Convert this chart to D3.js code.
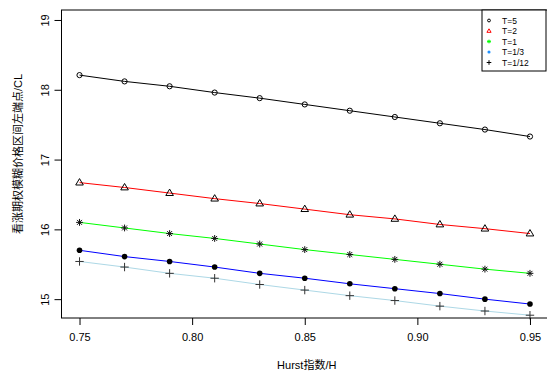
<!DOCTYPE html>
<html>
<head>
<meta charset="utf-8">
<script src="https://cdn.jsdelivr.net/npm/d3@7"></script>
<style>
  body { margin: 0; background: #fff; }
  svg { display: block; font-family: "Liberation Sans", Arial, "Noto Sans CJK SC", sans-serif; }
</style>
</head>
<body>
<svg width="547" height="374"></svg>
<script>
const hurst = [0.75, 0.77, 0.79, 0.81, 0.83, 0.85, 0.87, 0.89, 0.91, 0.93, 0.95];
const xTicks = [0.75, 0.80, 0.85, 0.90, 0.95];
const yTicks = [15, 16, 17, 18, 19];

const seriesNames = ['T=5', 'T=2', 'T=1', 'T=1/3', 'T=1/12'];
const clT5 = [18.21, 18.12, 18.05, 17.96, 17.88, 17.79, 17.70, 17.61, 17.52, 17.43, 17.33];
const clT2 = [16.67, 16.60, 16.52, 16.44, 16.37, 16.29, 16.21, 16.15, 16.07, 16.01, 15.94];
const clT1 = [16.10, 16.02, 15.94, 15.87, 15.79, 15.71, 15.64, 15.57, 15.50, 15.43, 15.37];
const clT1_3 = [15.70, 15.61, 15.54, 15.46, 15.37, 15.30, 15.22, 15.15, 15.08, 15.00, 14.93];
const clT1_12 = [15.54, 15.46, 15.37, 15.30, 15.21, 15.13, 15.05, 14.98, 14.90, 14.83, 14.77];

const lineColors = ['#000000', '#FF0000', '#00FF00', '#0000FF', '#ADD8E6'];
const legendColors = ['#000000', '#FF0000', '#00FF00', '#1E90FF', '#000000'];
const shapes = ['circle', 'triangle', 'star', 'dot', 'plus'];

const allSeries = [clT5, clT2, clT1, clT1_3, clT1_12];

const svg = d3.select('svg');
const box = {left: 61.5, right: 548, top: 10, bottom: 318};

const x = d3.scaleLinear().domain([0.742, 0.958]).range([box.left, box.right]);
const y = d3.scaleLinear().domain([14.73, 19.143]).range([box.bottom, box.top]);

// R-like point shapes
function marker(g, shape, s, color) {
  if (shape === 'circle') {
    g.append('circle').attr('r', 2.6 * s).attr('fill', 'none')
        .attr('stroke', color).attr('stroke-width', 1);
  } else if (shape === 'triangle') {
    const r = 4 * s;
    g.append('path')
        .attr('d', `M0,${-r}L${r * 0.95},${r * 0.6}L${-r * 0.95},${r * 0.6}Z`)
        .attr('fill', 'none').attr('stroke', color).attr('stroke-width', 1);
  } else if (shape === 'star') {
    const r = 3.4 * s, d = r * 0.72;
    g.append('path')
        .attr('d', `M${-r},0H${r}M0,${-r}V${r}M${-d},${-d}L${d},${d}M${-d},${d}L${d},${-d}`)
        .attr('stroke', color).attr('stroke-width', 1);
  } else if (shape === 'dot') {
    g.append('circle').attr('r', 2.8 * s).attr('fill', color);
  } else if (shape === 'plus') {
    const r = 4.2 * s;
    g.append('path').attr('d', `M${-r},0H${r}M0,${-r}V${r}`)
        .attr('stroke', color).attr('stroke-width', 1);
  }
}

const line = d3.line().x((d, i) => x(hurst[i])).y(d => y(d));

const plot = svg.append('g');
const markerColors = ['#000', '#000', '#111', '#000', '#333'];

allSeries.forEach((vals, k) => {
  plot.append('path')
      .attr('d', line(vals))
      .attr('fill', 'none')
      .attr('stroke', lineColors[k])
      .attr('stroke-width', 1);
  vals.forEach((v, i) => {
    const g = plot.append('g').attr('transform', `translate(${x(hurst[i])},${y(v)})`);
    marker(g, shapes[k], 1, markerColors[k]);
  });
});

// box
svg.append('rect')
    .attr('x', box.left).attr('y', box.top)
    .attr('width', box.right - box.left).attr('height', box.bottom - box.top)
    .attr('fill', 'none').attr('stroke', '#000').attr('stroke-width', 1);

// x axis
const xAxis = d3.axisBottom(x).tickValues(xTicks).tickFormat(d3.format('.2f'))
    .tickSize(7).tickPadding(8);
const gx = svg.append('g').attr('transform', `translate(0,${box.bottom})`).call(xAxis);
gx.select('.domain').remove();
gx.selectAll('text').attr('font-size', 11).attr('fill', '#000')
    .attr('font-family', '"Liberation Sans", Arial, sans-serif');

// y axis
const yAxis = d3.axisLeft(y).tickValues(yTicks).tickFormat(d3.format('d'))
    .tickSize(7).tickPadding(0);
const gy = svg.append('g').attr('transform', `translate(${box.left},0)`).call(yAxis);
gy.select('.domain').remove();
gy.selectAll('text')
    .attr('font-size', 11).attr('fill', '#000')
    .attr('font-family', '"Liberation Sans", Arial, sans-serif')
    .attr('text-anchor', 'middle').attr('dy', null).attr('x', null)
    .attr('transform', 'translate(-17,0) rotate(-90)')
    .attr('dominant-baseline', 'central');

// titles
svg.append('text')
    .attr('x', (box.left + box.right) / 2 + 2).attr('y', 369)
    .attr('text-anchor', 'middle').attr('font-size', 11)
    .text('Hurst指数/H');

svg.append('text')
    .attr('transform', `translate(18,${(box.top + box.bottom) / 2 - 10}) rotate(-90)`)
    .attr('text-anchor', 'middle').attr('dominant-baseline', 'central')
    .attr('font-size', 11)
    .text('看涨期权模糊价格区间左端点/CL');

// legend
const lg = svg.append('g');
lg.append('rect').attr('x', 482).attr('y', box.top).attr('width', 64).attr('height', 61)
    .attr('fill', '#fff').attr('stroke', '#000').attr('stroke-width', 1);
seriesNames.forEach((name, k) => {
  const ly = 20.5 + k * 10.5;
  const g = lg.append('g').attr('transform', `translate(489,${ly})`);
  marker(g, shapes[k], 0.55, legendColors[k]);
  lg.append('text').attr('x', 502).attr('y', ly)
      .attr('dominant-baseline', 'central').attr('font-size', 8.5)
      .attr('fill', '#000')
      .text(name);
});
</script>
</body>
</html>
